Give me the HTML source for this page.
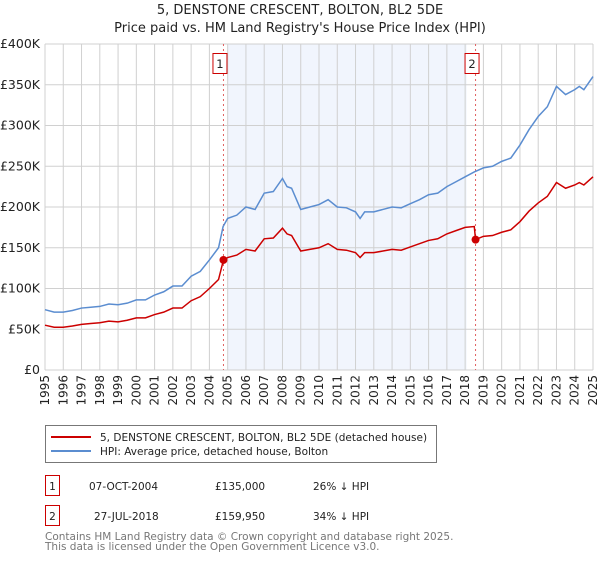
<!DOCTYPE html>
<html><head><meta charset="utf-8"><style>
body{margin:0;background:#fff;font-family:"DejaVu Sans","Liberation Sans",sans-serif;}
svg text{font-family:"DejaVu Sans","Liberation Sans",sans-serif;}
</style></head><body>
<svg id="chart" width="600" height="560" xmlns="http://www.w3.org/2000/svg">
<text x="300" y="14" text-anchor="middle" font-size="13" fill="#222">5, DENSTONE CRESCENT, BOLTON, BL2 5DE</text>
<text x="300" y="32" text-anchor="middle" font-size="13" fill="#222">Price paid vs. HM Land Registry's House Price Index (HPI)</text>
<g id="grid"></g><g id="series"></g><g id="axes"></g>
<rect x="45.5" y="425.5" width="391" height="37" fill="#fff" stroke="#777"/>
<line x1="51" y1="437" x2="91" y2="437" stroke="#cc0000" stroke-width="2"/>
<text x="100" y="441" font-size="10.5" fill="#222">5, DENSTONE CRESCENT, BOLTON, BL2 5DE (detached house)</text>
<line x1="51" y1="451" x2="91" y2="451" stroke="#5b8dd0" stroke-width="2"/>
<text x="100" y="455" font-size="10.5" fill="#222">HPI: Average price, detached house, Bolton</text>
<rect x="45.5" y="475.5" width="14" height="20" fill="#fff" stroke="#cc0000"/>
<text x="52.5" y="490" text-anchor="middle" font-size="10.5" fill="#222">1</text>
<text x="89" y="490" font-size="10.5" fill="#222">07-OCT-2004</text>
<text x="215" y="490" font-size="10.5" fill="#222">£135,000</text>
<text x="313" y="490" font-size="10.5" fill="#222">26% ↓ HPI</text>
<rect x="45.5" y="505.5" width="14" height="20" fill="#fff" stroke="#cc0000"/>
<text x="52.5" y="520" text-anchor="middle" font-size="10.5" fill="#222">2</text>
<text x="94" y="520" font-size="10.5" fill="#222">27-JUL-2018</text>
<text x="215" y="520" font-size="10.5" fill="#222">£159,950</text>
<text x="313" y="520" font-size="10.5" fill="#222">34% ↓ HPI</text>
<text x="45" y="540" font-size="10.5" fill="#777">Contains HM Land Registry data © Crown copyright and database right 2025.</text>
<text x="45" y="550" font-size="10.5" fill="#777">This data is licensed under the Open Government Licence v3.0.</text>
</svg>
<script>
const hpiDates=[1995,1995.5,1996,1996.5,1997,1997.5,1998,1998.5,1999,1999.5,2000,2000.5,2001,2001.5,2002,2002.5,2003,2003.5,2004,2004.5,2004.75,2005,2005.5,2006,2006.5,2007,2007.5,2008,2008.25,2008.5,2009,2009.5,2010,2010.5,2011,2011.5,2012,2012.25,2012.5,2013,2013.5,2014,2014.5,2015,2015.5,2016,2016.5,2017,2017.5,2018,2018.5,2019,2019.5,2020,2020.5,2021,2021.5,2022,2022.5,2023,2023.5,2024,2024.25,2024.5,2025];
const hpiValues=[74,71,71,73,76,77,78,81,80,82,86,86,92,96,103,103,115,121,135,150,176,186,190,200,197,217,219,235,225,223,197,200,203,209,200,199,194,186,194,194,197,200,199,204,209,215,217,225,231,237,243,248,250,256,260,276,295,311,323,348,338,344,348,344,360];
const priceDates=[1995,1995.5,1996,1996.5,1997,1997.5,1998,1998.5,1999,1999.5,2000,2000.5,2001,2001.5,2002,2002.5,2003,2003.5,2004,2004.5,2004.77,2005,2005.5,2006,2006.5,2007,2007.5,2008,2008.25,2008.5,2009,2009.5,2010,2010.5,2011,2011.5,2012,2012.25,2012.5,2013,2013.5,2014,2014.5,2015,2015.5,2016,2016.5,2017,2017.5,2018,2018.5,2018.57,2019,2019.5,2020,2020.5,2021,2021.5,2022,2022.5,2023,2023.5,2024,2024.25,2024.5,2025];
const priceValues=[55,52.5,52.5,54,56,57,58,60,59,61,64,64,68,71,76,76,85,90,100,111,135,138,141,148,146,161,162,174,167,165,146,148,150,155,148,147,144,138,144,144,146,148,147,151,155,159,161,167,171,175,176,160,164,165,169,172,182,195,205,213,230,223,227,230,227,237];
const saleDates=[2004.77,2018.57];
const saleValues=[135,159.95];
const yTicks=[0,50,100,150,200,250,300,350,400];
const yTickLabels=["£0","£50K","£100K","£150K","£200K","£250K","£300K","£350K","£400K"];
const xTicks=[1995,1996,1997,1998,1999,2000,2001,2002,2003,2004,2005,2006,2007,2008,2009,2010,2011,2012,2013,2014,2015,2016,2017,2018,2019,2020,2021,2022,2023,2024,2025];
const shadeRange=[2005,2018.08];

const NS="http://www.w3.org/2000/svg";
const L=45,R=593,T=44,B=370;
const x=v=>L+(v-1995)/30*(R-L);
const y=v=>B-v/400*(B-T);
function mk(p,tag,attrs){const e=document.createElementNS(NS,tag);for(const k in attrs)e.setAttribute(k,attrs[k]);p.appendChild(e);return e;}
const grid=document.getElementById('grid'),ser=document.getElementById('series'),ax=document.getElementById('axes');

let sh=mk(grid,'rect',{x:x(shadeRange[0]),y:T,width:x(shadeRange[1])-x(shadeRange[0]),height:B-T,fill:'#eef3fc',opacity:0.8});


xTicks.forEach(t=>{
 let l=mk(grid,'line',{x1:x(t),x2:x(t),y1:T,y2:B,stroke:'#d0d0d0'});
 
 
 let tx=mk(ax,'text',{transform:`translate(${x(t)+4},${B+5}) rotate(-90)`,'text-anchor':'end','font-size':12,fill:'#222'});
 tx.textContent=t;
 
 
});
yTicks.forEach((t,i)=>{
 let l=mk(grid,'line',{x1:L,x2:R,y1:y(t),y2:y(t),stroke:'#d0d0d0'});
 
 
 let tx=mk(ax,'text',{x:L-5,y:y(t)+4,'text-anchor':'end','font-size':12.5,fill:'#222'});
 tx.textContent=yTickLabels[i];
 
 
});
saleDates.forEach((d,i)=>{
 let l=mk(grid,'line',{x1:x(d),x2:x(d),y1:T,y2:B,stroke:'#e06060','stroke-dasharray':'2,3'});
 
 
 let bx=mk(ax,'rect',{x:x(d)-10.5,y:53.5,width:14,height:20,fill:'#fff',stroke:'#cc0000'});
 
 
 let tx=mk(ax,'text',{x:x(d)-3.5,y:68,'text-anchor':'middle','font-size':11.5,fill:'#222'});
 tx.textContent=String(i+1);
 
 
});
let hp=mk(ser,'polyline',{points:hpiDates.map((d,i)=>x(d)+','+y(hpiValues[i])).join(' '),fill:'none',stroke:'#5b8dd0','stroke-width':1.5});


let pp=mk(ser,'polyline',{points:priceDates.map((d,i)=>x(d)+','+y(priceValues[i])).join(' '),fill:'none',stroke:'#cc0000','stroke-width':1.5});


saleDates.forEach((d,i)=>{
 let c=mk(ser,'circle',{cx:x(d),cy:y(saleValues[i]),r:4,fill:'#cc0000'});
 
 
});
</script>
</body></html>
